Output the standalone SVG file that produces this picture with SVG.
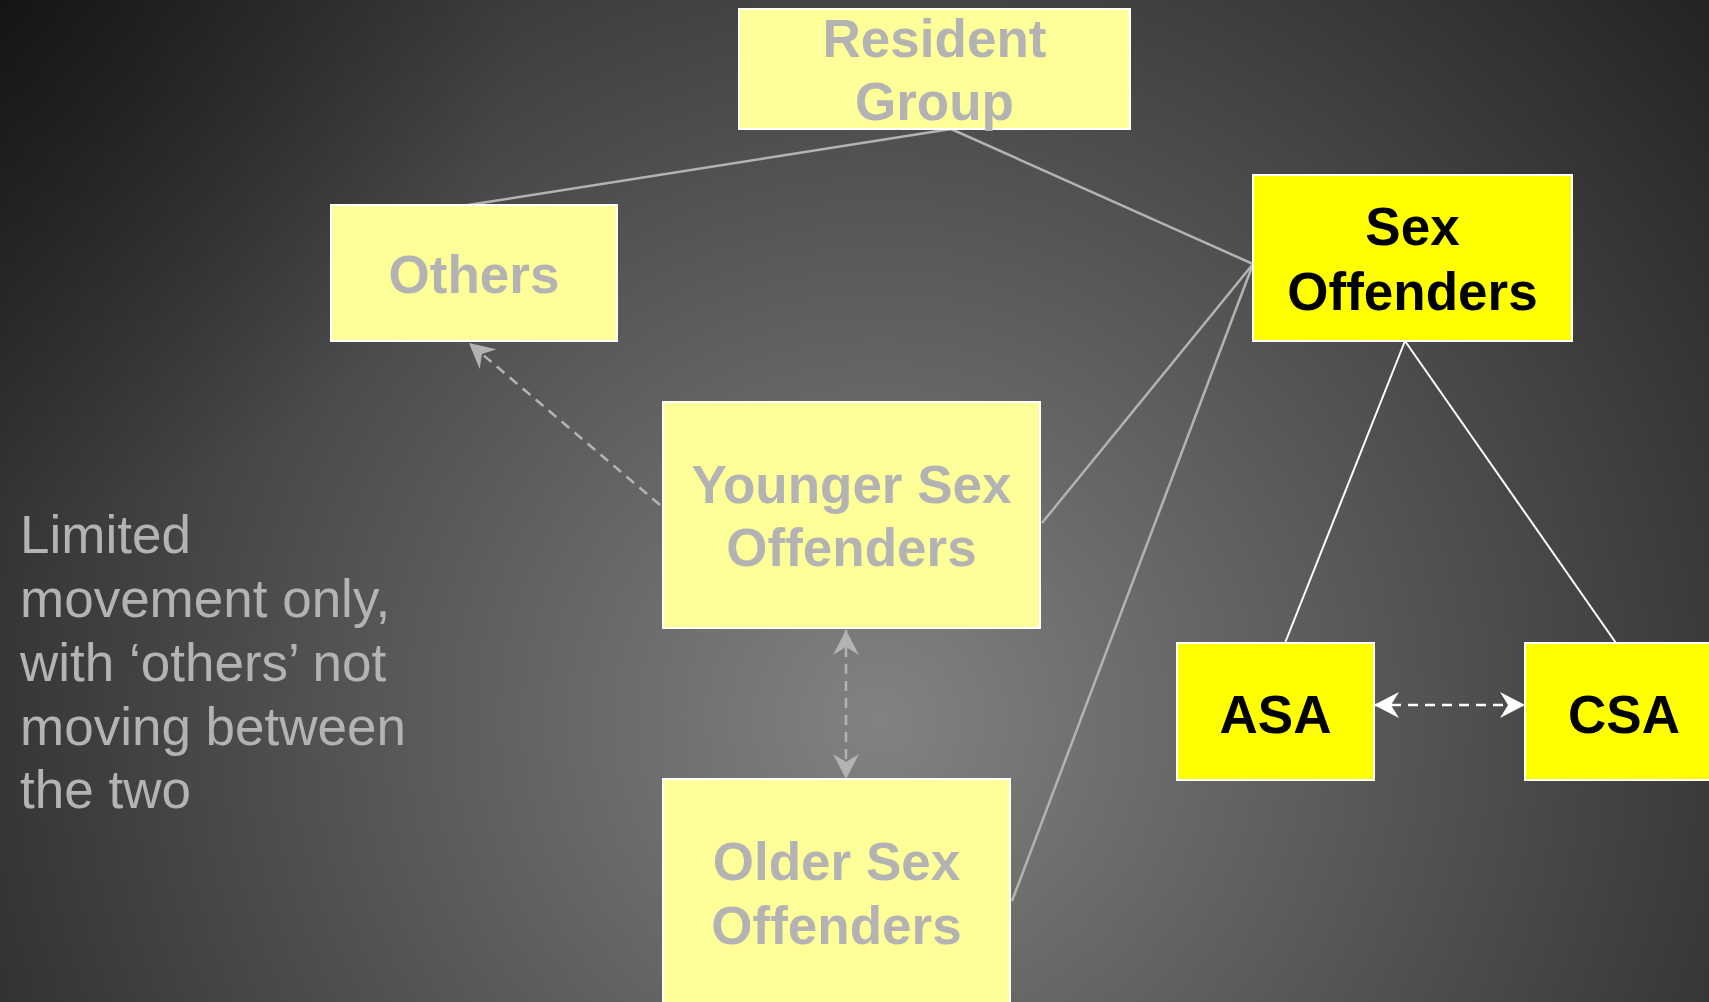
<svg xmlns="http://www.w3.org/2000/svg" width="1709" height="1002" viewBox="0 0 1709 1002">
<defs>
<radialGradient id="bg" gradientUnits="userSpaceOnUse" cx="880" cy="720" r="1200">
<stop offset="0" stop-color="#828282"/>
<stop offset="1" stop-color="#1a1a1a"/>
</radialGradient>
<radialGradient id="tl" gradientUnits="userSpaceOnUse" cx="0" cy="0" r="520">
<stop offset="0" stop-color="#000000" stop-opacity="0.35"/>
<stop offset="1" stop-color="#000000" stop-opacity="0"/>
</radialGradient>
<marker id="ag" markerUnits="userSpaceOnUse" markerWidth="30" markerHeight="30" viewBox="-27 -15 30 30" refX="0" refY="0" orient="auto-start-reverse">
<path d="M0,0 L-25,-13 L-17,0 L-25,13 Z" fill="#b3b3b3"/>
</marker>
<marker id="aw" markerUnits="userSpaceOnUse" markerWidth="30" markerHeight="30" viewBox="-27 -15 30 30" refX="0" refY="0" orient="auto-start-reverse">
<path d="M0,0 L-25,-13 L-17,0 L-25,13 Z" fill="#ffffff"/>
</marker>
</defs>
<style>
.box{stroke:#ffffff;stroke-width:2}
.pale{fill:#ffff99}
.hot{fill:#ffff00}
.lbl{font-family:"Liberation Sans",Arial,Helvetica,sans-serif;font-weight:bold;font-size:53px;text-anchor:middle}
.dim{fill:#b3b3b3}
.blk{fill:#000000}
.gl{stroke:#b3b3b3;stroke-width:2.5;fill:none}
.wl{stroke:#ffffff;stroke-width:2;fill:none}
.gd{stroke:#b3b3b3;stroke-width:2.5;fill:none;stroke-dasharray:10 7}
.wd{stroke:#ffffff;stroke-width:2.5;fill:none;stroke-dasharray:10 7}
.note{font-family:"Liberation Sans",Arial,Helvetica,sans-serif;font-size:53px;fill:#b3b3b3}
</style>
<rect x="0" y="0" width="1709" height="1002" fill="url(#bg)"/>
<rect x="0" y="0" width="1709" height="1002" fill="url(#tl)"/>
<g id="connectors">
<line class="gl" x1="951" y1="129" x2="468" y2="205"/>
<line class="gl" x1="951" y1="129" x2="1253" y2="264"/>
<line class="gl" x1="1042" y1="523" x2="1253" y2="264"/>
<line class="gl" x1="1012" y1="901" x2="1253" y2="264"/>
<line class="wl" x1="1405" y1="341" x2="1285" y2="643"/>
<line class="wl" x1="1405" y1="341" x2="1616" y2="643"/>
<line class="gd" x1="660" y1="505" x2="469" y2="343" marker-end="url(#ag)"/>
<line class="gd" x1="846" y1="630" x2="846" y2="779" marker-start="url(#ag)" marker-end="url(#ag)"/>
<line class="wd" x1="1374" y1="705" x2="1525" y2="705" marker-start="url(#aw)" marker-end="url(#aw)"/>
</g>
<g id="resident-group">
<rect class="box pale" x="739" y="9" width="391" height="120"/>
<text class="lbl dim" x="934.5" y="57">Resident</text>
<text class="lbl dim" x="934.5" y="120">Group</text>
</g>
<g id="others">
<rect class="box pale" x="331" y="205" width="286" height="136"/>
<text class="lbl dim" x="474" y="293">Others</text>
</g>
<g id="sex-offenders">
<rect class="box hot" x="1253" y="175" width="319" height="166"/>
<text class="lbl blk" x="1412.5" y="245">Sex</text>
<text class="lbl blk" x="1412.5" y="310">Offenders</text>
</g>
<g id="younger">
<rect class="box pale" x="663" y="402" width="377" height="226"/>
<text class="lbl dim" x="851.5" y="503">Younger Sex</text>
<text class="lbl dim" x="851.5" y="566">Offenders</text>
</g>
<g id="older">
<rect class="box pale" x="663" y="779" width="347" height="240"/>
<text class="lbl dim" x="836.5" y="880">Older Sex</text>
<text class="lbl dim" x="836.5" y="944">Offenders</text>
</g>
<g id="asa">
<rect class="box hot" x="1177" y="643" width="197" height="137"/>
<text class="lbl blk" x="1275.5" y="733">ASA</text>
</g>
<g id="csa">
<rect class="box hot" x="1525" y="643" width="200" height="137"/>
<text class="lbl blk" x="1624" y="733">CSA</text>
</g>
<g id="note">
<text class="note" x="20" y="553">Limited</text>
<text class="note" x="20" y="617">movement only,</text>
<text class="note" x="20" y="681">with ‘others’ not</text>
<text class="note" x="20" y="745">moving between</text>
<text class="note" x="20" y="808">the two</text>
</g>
</svg>
